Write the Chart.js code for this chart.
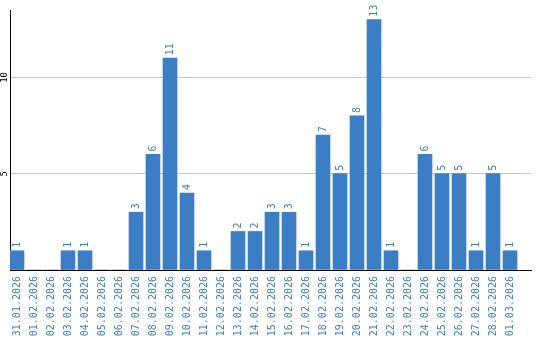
<!DOCTYPE html>
<html>
<head>
<meta charset="utf-8">
<style>
  html, body { margin: 0; padding: 0; background: #fff; }
  #wrap { width: 540px; height: 340px; }
</style>
<script src="https://cdn.jsdelivr.net/npm/chart.js@4/dist/chart.umd.min.js"></script>
</head>
<body>
<div id="wrap"><canvas id="grafico" width="540" height="340"></canvas></div>
<script>
// ---------- Dados ----------
const dias = [
  '31.01.2026','01.02.2026','02.02.2026','03.02.2026','04.02.2026','05.02.2026',
  '06.02.2026','07.02.2026','08.02.2026','09.02.2026','10.02.2026','11.02.2026',
  '12.02.2026','13.02.2026','14.02.2026','15.02.2026','16.02.2026','17.02.2026',
  '18.02.2026','19.02.2026','20.02.2026','21.02.2026','22.02.2026','23.02.2026',
  '24.02.2026','25.02.2026','26.02.2026','27.02.2026','28.02.2026','01.03.2026'
];
const valores = [1,0,0,1,1,0,0,3,6,11,4,1,0,2,2,3,3,1,7,5,8,13,1,0,6,5,5,1,5,1];
const yTicks = [5, 10];

const AZUL = '#3b7ec3';
const MONO = '"DejaVu Sans Mono", monospace';

// rótulos em cima das barras, girados
const rotulosBarras = {
  id: 'rotulosBarras',
  afterDatasetsDraw(chart){
    const ctx = chart.ctx;
    const meta = chart.getDatasetMeta(0);
    ctx.save();
    ctx.fillStyle = AZUL;
    ctx.font = '10px ' + MONO;
    ctx.textAlign = 'left';
    ctx.textBaseline = 'middle';
    meta.data.forEach((bar, i) => {
      const v = valores[i];
      if(!v) return;
      ctx.save();
      ctx.translate(bar.x + 0.5, bar.y - 3);
      ctx.rotate(-Math.PI/2);
      ctx.fillText(String(v), 0, 0);
      ctx.restore();
    });
    ctx.restore();
  },
  afterDraw(chart){
    // ticks do eixo y, também girados
    const ctx = chart.ctx;
    const y = chart.scales.y;
    ctx.save();
    ctx.fillStyle = '#000';
    ctx.font = '9px ' + MONO;
    ctx.textAlign = 'center';
    ctx.textBaseline = 'middle';
    for(const t of y.ticks){
      if(!yTicks.includes(t.value)) continue;
      ctx.save();
      ctx.translate(5, y.getPixelForValue(t.value));
      ctx.rotate(-Math.PI/2);
      ctx.fillText(String(t.value), 0, 0);
      ctx.restore();
    }
    ctx.restore();
  }
};

new Chart(document.getElementById('grafico'), {
  type: 'bar',
  data: {
    datasets: [{
      data: valores.map((v, i) => ({ x: i, y: v })),
      backgroundColor: AZUL,
      barThickness: 14
    }]
  },
  options: {
    responsive: false,
    animation: false,
    layout: { padding: { top: 10, right: 9, left: 0, bottom: 0 } },
    plugins: { legend: { display: false }, tooltip: { enabled: false } },
    scales: {
      x: {
        type: 'linear',
        offset: false,
        // cada dia ocupa 17px; barra de 14px encostada no início
        min: -7/17, max: (521 - 7) / 17,
        grid: { display: false, drawTicks: false },
        border: { color: '#000', width: 1 },
        afterBuildTicks: (s) => { s.ticks = dias.map((_, i) => ({ value: i })); },
        ticks: {
          autoSkip: false, minRotation: 90, maxRotation: 90, padding: 6,
          color: AZUL, font: { family: MONO, size: 10 },
          callback: (v) => dias[v]
        },
        afterFit: (s) => { s.height = 70; }
      },
      y: {
        min: 0, max: 13.5,
        border: { color: '#000', width: 1 },
        grid: {
          drawTicks: false,
          color: (c) => yTicks.includes(c.tick && c.tick.value) ? '#c8c8c8' : 'rgba(0,0,0,0)'
        },
        ticks: { stepSize: 5, includeBounds: false, display: false },
        afterFit: (s) => { s.width = 10; }
      }
    }
  },
  plugins: [rotulosBarras]
});
</script>
</body>
</html>
